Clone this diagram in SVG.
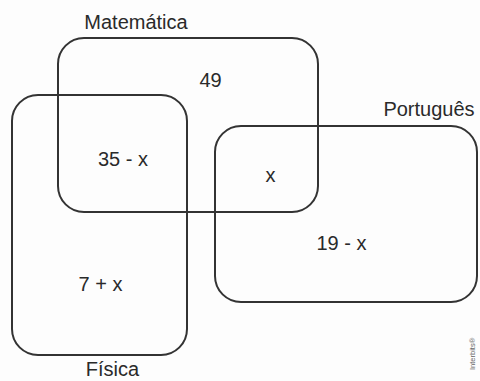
<svg xmlns="http://www.w3.org/2000/svg" width="480" height="381" viewBox="0 0 480 381">
<style>
.set{fill:none;stroke:#333;stroke-width:2}
.t{font-family:"Liberation Sans",Arial,sans-serif;font-size:20px;fill:#2a2a2a;text-anchor:middle}
</style>
<rect width="480" height="381" fill="#fdfdfd"/>
<g id="matematica">
<rect class="set" x="58" y="38" width="260" height="174" rx="26" ry="26"/>
<text class="t" x="136" y="29">Matemática</text>
</g>
<g id="fisica">
<rect class="set" x="12" y="95" width="175" height="260" rx="26" ry="26"/>
<text class="t" x="112.5" y="376">Física</text>
</g>
<g id="portugues">
<rect class="set" x="215" y="126" width="262" height="176" rx="26" ry="26"/>
<text class="t" x="429" y="116">Português</text>
</g>
<g id="regions">
<text class="t" x="210.5" y="87">49</text>
<text class="t" x="123" y="166">35 - x</text>
<text class="t" x="270.5" y="182">x</text>
<text class="t" x="341.5" y="250">19 - x</text>
<text class="t" x="100.5" y="291">7 + x</text>
</g>
<g id="connectors"></g>
<text x="0" y="0" transform="translate(475,370) rotate(-90)" font-family="Liberation Sans,Arial,sans-serif" font-size="7.5" fill="#666">Interbits®</text>
</svg>
